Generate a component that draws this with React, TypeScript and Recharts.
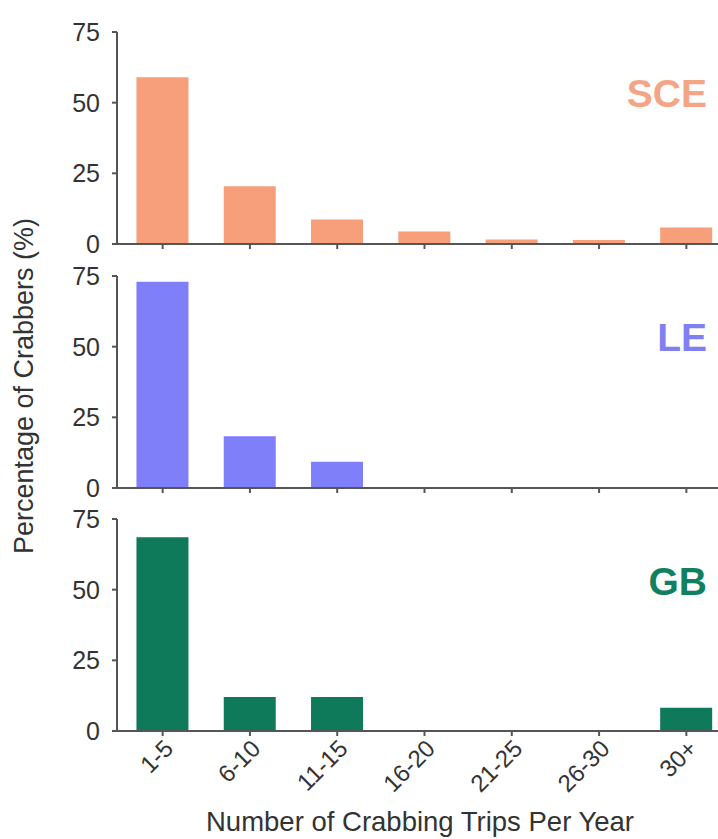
import React from 'react';
import { BarChart, Bar, XAxis, YAxis } from 'recharts';

const categories = ['1-5', '6-10', '11-15', '16-20', '21-25', '26-30', '30+'];
const sceValues = [59, 20.4, 8.7, 4.4, 1.6, 1.4, 5.8];
const leValues = [73, 18.3, 9.3, 0, 0, 0, 0];
const gbValues = [68.5, 12, 12, 0, 0, 0, 8.2];
const yTicks = [0, 25, 50, 75];
const panelNames = ['SCE', 'LE', 'GB'];
const xTitle = 'Number of Crabbing Trips Per Year';
const yTitle = 'Percentage of Crabbers (%)';

const FONT = '"Liberation Sans", Arial, sans-serif';
const AXIS = '#555555';
const TEXT = '#333333';

const NoTick = () => <g />;

type PanelProps = {
  values: number[];
  color: string;
  top: number;
  height: number;
  marginTop: number;
  xAxisHeight: number;
  showLabels: boolean;
};

function Panel({ values, color, top, height, marginTop, xAxisHeight, showLabels }: PanelProps) {
  const data = categories.map((c, i) => ({ cat: c, value: values[i] }));
  return (
    <div style={{ position: 'absolute', left: 0, top, width: 740, height }}>
      <BarChart
        width={740}
        height={height}
        data={data}
        margin={{ top: marginTop, right: 10, bottom: 0, left: 0 }}
        barCategoryGap="20%"
      >
        <XAxis
          dataKey="cat"
          interval={0}
          padding={{ left: 2, right: 0 }}
          height={xAxisHeight}
          tickSize={5}
          tickMargin={2}
          axisLine={{ stroke: AXIS, strokeWidth: 2 }}
          tickLine={{ stroke: AXIS, strokeWidth: 2 }}
          tick={
            showLabels
              ? { angle: -45, textAnchor: 'end', fontSize: 24, fill: TEXT, fontFamily: FONT }
              : NoTick
          }
        />
        <YAxis
          type="number"
          domain={[0, 75]}
          ticks={yTicks}
          interval={0}
          width={117}
          tickSize={5}
          tickMargin={12}
          axisLine={{ stroke: AXIS, strokeWidth: 2 }}
          tickLine={{ stroke: AXIS, strokeWidth: 2 }}
          tick={{ fontSize: 25, fill: TEXT, fontFamily: FONT }}
        />
        <Bar dataKey="value" fill={color} isAnimationActive={false} />
      </BarChart>
    </div>
  );
}

export default function App() {
  return (
    <div
      style={{
        position: 'fixed',
        left: 0,
        top: 0,
        width: 718,
        height: 839,
        overflow: 'hidden',
        background: '#ffffff',
        fontFamily: FONT,
      }}
    >
      <Panel values={sceValues} color="#F79E7A" top={0} height={264} marginTop={32} xAxisHeight={20} showLabels={false} />
      <Panel values={leValues} color="#7F7FFA" top={256} height={252} marginTop={20} xAxisHeight={20} showLabels={false} />
      <Panel values={gbValues} color="#0F7A5A" top={500} height={301} marginTop={19} xAxisHeight={70} showLabels={true} />
      <svg
        width={718}
        height={839}
        style={{ position: 'absolute', left: 0, top: 0, pointerEvents: 'none' }}
      >
        <text x={707} y={107} textAnchor="end" fontSize={39} fontWeight="bold" fill="#F5A585" fontFamily={FONT}>
          {panelNames[0]}
        </text>
        <text x={707} y={351} textAnchor="end" fontSize={39} fontWeight="bold" fill="#8080F2" fontFamily={FONT}>
          {panelNames[1]}
        </text>
        <text x={707} y={595} textAnchor="end" fontSize={39} fontWeight="bold" fill="#10805E" fontFamily={FONT}>
          {panelNames[2]}
        </text>
        <text x={420} y={831} textAnchor="middle" fontSize={27.5} fill={TEXT} fontFamily={FONT}>
          {xTitle}
        </text>
        <text
          x={33}
          y={386}
          textAnchor="middle"
          fontSize={27}
          fill={TEXT}
          fontFamily={FONT}
          transform="rotate(-90, 33, 386)"
        >
          {yTitle}
        </text>
      </svg>
    </div>
  );
}
